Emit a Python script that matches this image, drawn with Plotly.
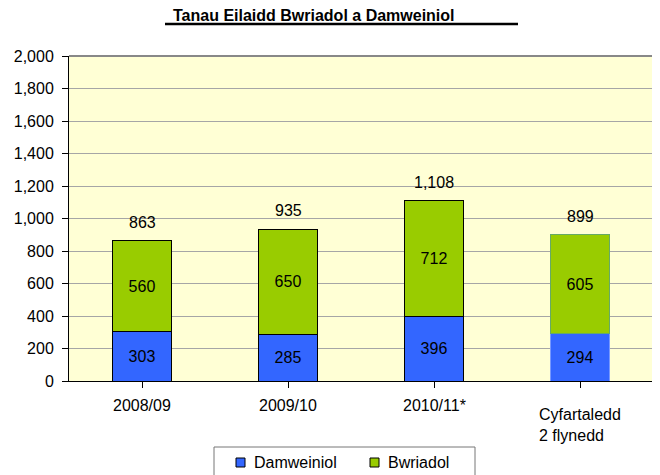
import plotly.graph_objects as go

categories = ["2008/09", "2009/10", "2010/11*", "Cyfartaledd<br>2 flynedd"]
damweiniol = [303, 285, 396, 294]
bwriadol = [560, 650, 712, 605]
totals = [863, 935, 1108, 899]
y_ticks = [0, 200, 400, 600, 800, 1000, 1200, 1400, 1600, 1800, 2000]
series_names = ["Damweiniol", "Bwriadol"]
title_text = "Tanau Eilaidd Bwriadol a Damweiniol"

FONT = "Liberation Sans, Arial, sans-serif"
FS = 16
BLUE = "#3366FF"
GREEN = "#99CC00"
xs = list(range(len(categories)))

# page body has an 8px default margin: size the figure so it fills the window
OFF = 8
W, H = 660 - OFF, 475 - OFF
# plot area in window pixels
L, R, T, B = 69, 653, 56, 381
PW, PH = R - L, B - T
def px(x):
    return (x - L) / PW
def py(y):
    return (B - y) / PH

blue_edges = ["black", "black", "black", "#7799FF"]
green_edges = ["black", "black", "black", "#66AA66"]

fig = go.Figure()
fig.add_trace(go.Bar(x=xs, y=damweiniol, name=series_names[0],
                     marker=dict(color=BLUE, line=dict(color=blue_edges, width=1)),
                     width=0.4, text=[str(v) for v in damweiniol], textposition="inside",
                     insidetextanchor="middle", textfont=dict(family=FONT, size=FS, color="black"),
                     showlegend=False, hoverinfo="skip"))
fig.add_trace(go.Bar(x=xs, y=bwriadol, name=series_names[1],
                     marker=dict(color=GREEN, line=dict(color=green_edges, width=1)),
                     width=0.4, text=[str(v) for v in bwriadol], textposition="inside",
                     insidetextanchor="middle", textfont=dict(family=FONT, size=FS, color="black"),
                     showlegend=False, hoverinfo="skip"))

annotations = []
for i, t in enumerate(totals):
    annotations.append(dict(x=i, y=t, xref="x", yref="y", text=f"{t:,}", showarrow=False,
                            yanchor="bottom", yshift=8, font=dict(family=FONT, size=FS, color="black")))
for i, c in enumerate(categories):
    if "<br>" in c:
        annotations.append(dict(x=i, y=0, xref="x", yref="y", text=c, showarrow=False, align="left",
                                yanchor="top", yshift=-23, font=dict(family=FONT, size=FS, color="black")))
    else:
        annotations.append(dict(x=i, y=0, xref="x", yref="y", text=c, showarrow=False,
                                yanchor="top", yshift=-14, font=dict(family=FONT, size=FS, color="black")))
annotations.append(dict(x=px(171), y=py(15), xref="paper", yref="paper", text=f"<b>{title_text}</b>",
                        showarrow=False, xanchor="left", yanchor="middle",
                        font=dict(family=FONT, size=FS, color="black")))

shapes = [
    dict(type="line", xref="paper", yref="paper", x0=px(165), x1=px(518),
         y0=py(24), y1=py(24), line=dict(color="black", width=2.5)),
    dict(type="line", xref="paper", yref="paper", x0=0, x1=1, y0=1, y1=1, line=dict(color="#888888", width=2)),
    dict(type="line", xref="paper", yref="paper", x0=1, x1=1, y0=0, y1=1, line=dict(color="#888888", width=2)),
    # legend box
    dict(type="rect", xref="paper", yref="paper", x0=px(214), x1=px(475), y0=py(447), y1=py(482),
         line=dict(color="#777777", width=1), fillcolor="white"),
]
# legend entries
legend_items = [(series_names[0], BLUE, 236, 252), (series_names[1], GREEN, 370, 386)]
for name, col, sx, tx in legend_items:
    shapes.append(dict(type="rect", xref="paper", yref="paper", x0=px(sx), x1=px(sx + 9),
                       y0=py(467), y1=py(458), line=dict(color="black", width=1), fillcolor=col))
    annotations.append(dict(x=px(tx), y=py(462), xref="paper", yref="paper", text=name, showarrow=False,
                            xanchor="left", yanchor="middle", font=dict(family=FONT, size=FS, color="black")))

fig.update_layout(
    barmode="stack",
    width=W, height=H,
    margin=dict(l=L - OFF, r=W - (R - OFF), t=T - OFF, b=H - (B - OFF), autoexpand=False),
    paper_bgcolor="white",
    plot_bgcolor="#FFFFD5",
    font=dict(family=FONT, size=FS, color="black"),
    annotations=annotations,
    shapes=shapes,
    showlegend=False,
    xaxis=dict(range=[-0.5, 3.5], tickvals=xs, ticktext=["" for _ in xs], showgrid=False,
               showline=True, linecolor="black", linewidth=1, ticks="outside", tickson="boundaries",
               ticklen=6, tickcolor="black", zeroline=False, fixedrange=True),
    yaxis=dict(range=[0, 2000], tickvals=y_ticks, tickformat=",", showgrid=True, gridcolor="#A6A6A6",
               gridwidth=1, showline=True, linecolor="black", linewidth=1, ticks="outside", ticklen=6,
               tickcolor="black", zeroline=False, ticklabelstandoff=5,
               tickfont=dict(family=FONT, size=FS, color="black")),
)

fig.write_html("out.html")
